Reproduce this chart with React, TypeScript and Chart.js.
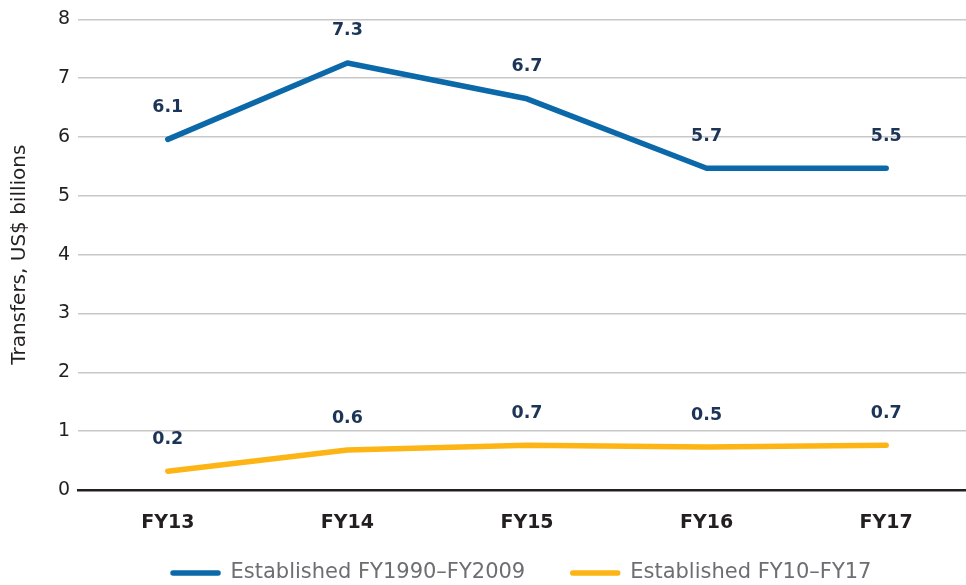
import React, { useEffect, useRef } from "react";
import { Chart, registerables } from "chart.js";

Chart.register(...registerables);

const categories = ["FY13", "FY14", "FY15", "FY16", "FY17"];
const seriesNames = ["Established FY1990–FY2009", "Established FY10–FY17"];
const olderValues = [5.96, 7.26, 6.65, 5.47, 5.47];
const newerValues = [0.32, 0.68, 0.76, 0.73, 0.76];
const olderLabels = ["6.1", "7.3", "6.7", "5.7", "5.5"];
const newerLabels = ["0.2", "0.6", "0.7", "0.5", "0.7"];
const yTicks = [0, 1, 2, 3, 4, 5, 6, 7, 8];

const FONT = "'DejaVu Sans', sans-serif";
const BLUE = "#0b69aa";
const ORANGE = "#fdb515";

const valueLabelPlugin = {
  id: "valueLabels",
  afterDatasetsDraw(chart: any) {
    const ctx = chart.ctx;
    const labelSets = [olderLabels, newerLabels];
    ctx.save();
    ctx.font = `bold 17.5px ${FONT}`;
    ctx.fillStyle = "#1c3557";
    ctx.textAlign = "center";
    ctx.textBaseline = "middle";
    chart.data.datasets.forEach((ds: any, i: number) => {
      const meta = chart.getDatasetMeta(i);
      meta.data.forEach((pt: any, j: number) => {
        ctx.fillText(labelSets[i][j], pt.x, pt.y - 32);
      });
    });
    ctx.restore();
  },
};

const lineLegendPlugin = {
  id: "lineLegend",
  afterDraw(chart: any) {
    const ctx = chart.ctx;
    const boxW = 50;
    const gapText = 10;
    const gapItem = 45;
    ctx.save();
    ctx.font = `21px ${FONT}`;
    const items = chart.data.datasets.map((ds: any) => ({
      text: ds.label,
      color: ds.borderColor,
      w: boxW + gapText + ctx.measureText(ds.label).width,
    }));
    const total = items.reduce((s: number, it: any) => s + it.w, 0) + gapItem * (items.length - 1);
    const center = (chart.chartArea.left + chart.chartArea.right) / 2 - 6;
    const y = chart.chartArea.bottom + 83;
    let x = center - total / 2;
    ctx.textBaseline = "middle";
    ctx.textAlign = "left";
    items.forEach((it: any) => {
      ctx.strokeStyle = it.color;
      ctx.lineWidth = 5.5;
      ctx.lineCap = "round";
      ctx.beginPath();
      ctx.moveTo(x + 2.5, y);
      ctx.lineTo(x + boxW - 2.5, y);
      ctx.stroke();
      ctx.fillStyle = "#6d6e71";
      ctx.fillText(it.text, x + boxW + gapText, y);
      x += it.w + gapItem;
    });
    ctx.restore();
  },
};

export default function App() {
  const ref = useRef<HTMLCanvasElement>(null);
  useEffect(() => {
    if (!ref.current) return;
    const chart = new Chart(ref.current, {
      type: "line",
      data: {
        labels: categories,
        datasets: [
          {
            label: seriesNames[0],
            data: olderValues,
            borderColor: BLUE,
            backgroundColor: BLUE,
            borderWidth: 5.5,
            pointRadius: 0,
            borderCapStyle: "round",
            borderJoinStyle: "round",
            tension: 0,
          },
          {
            label: seriesNames[1],
            data: newerValues,
            borderColor: ORANGE,
            backgroundColor: ORANGE,
            borderWidth: 5.5,
            pointRadius: 0,
            borderCapStyle: "round",
            borderJoinStyle: "round",
            tension: 0,
          },
        ],
      },
      options: {
        animation: false,
        responsive: false,
        maintainAspectRatio: false,
        layout: { padding: { top: 17, left: 0, right: 0, bottom: 40 } },
        plugins: {
          tooltip: { enabled: false },
          legend: { display: false },
        },
        scales: {
          x: {
            offset: true,
            grid: { display: false, drawTicks: false },
            border: { display: true, color: "#231f20", width: 2.5 },
            ticks: {
              color: "#231f20",
              font: { family: FONT, size: 19, weight: "bold" },
              padding: 22,
            },
            afterFit: (scale: any) => {
              scale.height = 55;
            },
          },
          y: {
            min: 0,
            max: 8,
            afterBuildTicks: (scale: any) => {
              scale.ticks = yTicks.map((v) => ({ value: v }));
            },
            grid: { color: "#c8c8c8", lineWidth: 1.5, drawTicks: false },
            border: { display: false },
            ticks: {
              color: "#231f20",
              font: { family: FONT, size: 19, weight: "normal" },
              padding: 8,
            },
            title: {
              display: true,
              text: "Transfers, US$ billions",
              color: "#231f20",
              font: { family: FONT, size: 20, weight: "normal" },
              padding: { top: 8, bottom: 0 },
            },
            afterFit: (scale: any) => {
              scale.width = 78;
            },
          },
        },
      },
      plugins: [valueLabelPlugin, lineLegendPlugin],
    } as any);
    return () => chart.destroy();
  }, []);
  return (
    <div style={{ position: "fixed", left: 0, top: 0, width: 966, height: 585, overflow: "hidden", background: "#fff" }}>
      <div style={{ width: 976, height: 585 }}>
        <canvas ref={ref} width={976} height={585} style={{ display: "block" }} />
      </div>
    </div>
  );
}
